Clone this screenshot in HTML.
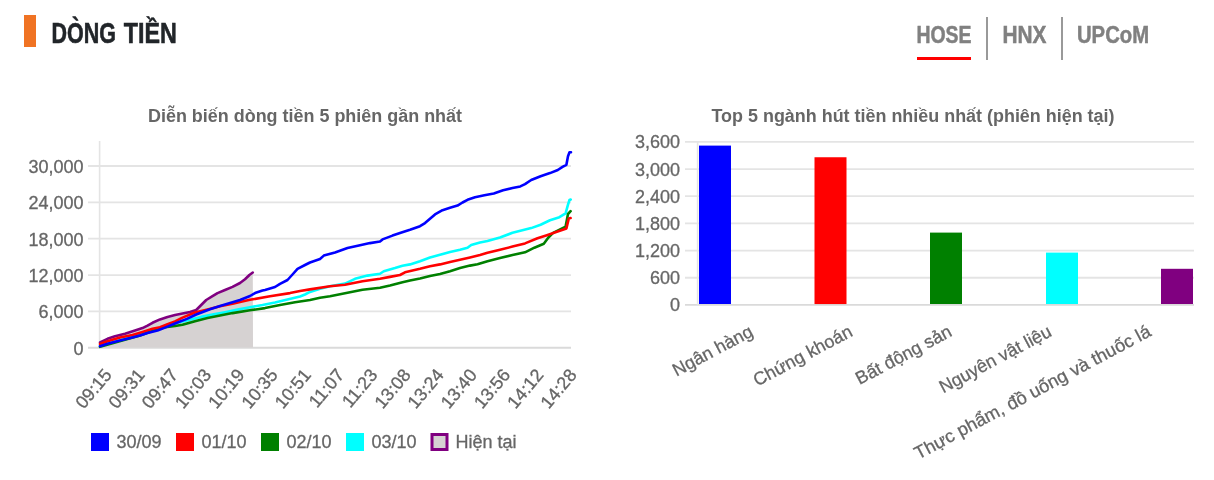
<!DOCTYPE html>
<html><head><meta charset="utf-8"><style>
html,body{margin:0;padding:0;background:#fff;width:1214px;height:480px;overflow:hidden}
svg{display:block;font-family:"Liberation Sans", sans-serif;will-change:transform}
</style></head><body>
<svg width="1214" height="480" viewBox="0 0 1214 480">
<rect x="24" y="15" width="12" height="32" fill="#f07323"/>
<text x="51.5" y="43" font-size="29.5" font-weight="bold" fill="#212529" text-anchor="start" textLength="64.5" lengthAdjust="spacingAndGlyphs" stroke="#212529" stroke-width="0.6">DÒNG</text>
<text x="123.8" y="43" font-size="29.5" font-weight="bold" fill="#212529" text-anchor="start" textLength="53" lengthAdjust="spacingAndGlyphs" stroke="#212529" stroke-width="0.6">TIỀN</text>
<text x="916.5" y="43" font-size="24" font-weight="bold" fill="#808080" text-anchor="start" textLength="55" lengthAdjust="spacingAndGlyphs" stroke="#808080" stroke-width="0.5">HOSE</text>
<text x="1002.5" y="43" font-size="24" font-weight="bold" fill="#808080" text-anchor="start" textLength="44" lengthAdjust="spacingAndGlyphs" stroke="#808080" stroke-width="0.5">HNX</text>
<text x="1077" y="43" font-size="24" font-weight="bold" fill="#808080" text-anchor="start" textLength="72" lengthAdjust="spacingAndGlyphs" stroke="#808080" stroke-width="0.5">UPCoM</text>
<rect x="917" y="57" width="54" height="3" fill="#f00"/>
<rect x="986" y="17" width="2" height="43" fill="#999"/>
<rect x="1061" y="17" width="2" height="43" fill="#999"/>
<text x="148" y="122" font-size="18" font-weight="bold" fill="#666" text-anchor="start" textLength="314" lengthAdjust="spacingAndGlyphs" >Diễn biến dòng tiền 5 phiên gần nhất</text>
<text x="711.5" y="122" font-size="18" font-weight="bold" fill="#666" text-anchor="start" textLength="403" lengthAdjust="spacingAndGlyphs" >Top 5 ngành hút tiền nhiều nhất (phiên hiện tại)</text>
<line x1="88" y1="347.75" x2="571" y2="347.75" stroke="#dadada" stroke-width="1.8"/>
<text x="83.5" y="354.75" font-size="18" font-weight="normal" fill="#666" text-anchor="end" stroke="#666" stroke-width="0.3" >0</text>
<line x1="88" y1="311.40" x2="571" y2="311.40" stroke="#e4e4e4" stroke-width="1.8"/>
<text x="83.5" y="318.4" font-size="18" font-weight="normal" fill="#666" text-anchor="end" stroke="#666" stroke-width="0.3" >6,000</text>
<line x1="88" y1="275.05" x2="571" y2="275.05" stroke="#e4e4e4" stroke-width="1.8"/>
<text x="83.5" y="282.05" font-size="18" font-weight="normal" fill="#666" text-anchor="end" stroke="#666" stroke-width="0.3" >12,000</text>
<line x1="88" y1="238.70" x2="571" y2="238.70" stroke="#e4e4e4" stroke-width="1.8"/>
<text x="83.5" y="245.7" font-size="18" font-weight="normal" fill="#666" text-anchor="end" stroke="#666" stroke-width="0.3" >18,000</text>
<line x1="88" y1="202.35" x2="571" y2="202.35" stroke="#e4e4e4" stroke-width="1.8"/>
<text x="83.5" y="209.35" font-size="18" font-weight="normal" fill="#666" text-anchor="end" stroke="#666" stroke-width="0.3" >24,000</text>
<line x1="88" y1="166.00" x2="571" y2="166.00" stroke="#e4e4e4" stroke-width="1.8"/>
<text x="83.5" y="173.0" font-size="18" font-weight="normal" fill="#666" text-anchor="end" stroke="#666" stroke-width="0.3" >30,000</text>
<line x1="99.6" y1="141" x2="99.6" y2="348.5" stroke="#e4e4e4" stroke-width="1.6"/>
<polygon points="100.0,342.5 107.5,338.8 115.0,336.2 125.0,333.8 135.0,330.6 142.5,328.1 147.5,325.6 152.5,322.8 160.0,319.4 167.5,316.9 175.0,315.0 180.0,314.0 190.0,311.9 196.2,310.0 201.2,305.0 206.2,300.0 212.5,296.2 217.5,293.1 225.0,290.0 232.5,286.9 240.0,283.0 245.0,279.3 249.4,275.0 252.8,272.5 253.0,347.5 99.6,347.5" fill="#d6d2d2"/>
<polyline points="100.0,342.5 107.5,338.8 115.0,336.2 125.0,333.8 135.0,330.6 142.5,328.1 147.5,325.6 152.5,322.8 160.0,319.4 167.5,316.9 175.0,315.0 180.0,314.0 190.0,311.9 196.2,310.0 201.2,305.0 206.2,300.0 212.5,296.2 217.5,293.1 225.0,290.0 232.5,286.9 240.0,283.0 245.0,279.3 249.4,275.0 252.8,272.5" fill="none" stroke="#800080" stroke-width="2.6" stroke-linejoin="round" stroke-linecap="round"/>
<polyline points="100.0,346.0 140.0,334.5 160.0,328.0 176.2,323.1 188.8,320.0 201.2,316.9 213.8,314.4 226.2,311.9 238.8,309.4 250.0,307.2 262.5,305.0 275.0,302.5 287.5,299.4 300.0,296.5 305.0,294.5 310.0,291.9 320.0,288.8 330.0,286.3 345.0,283.6 355.0,278.8 367.5,275.6 380.0,273.8 383.8,271.2 395.0,268.1 402.5,265.8 410.0,264.4 420.0,261.2 430.0,257.5 440.0,254.8 450.0,252.1 460.0,249.8 467.5,247.8 471.2,245.0 480.0,242.5 487.5,240.9 500.0,237.5 512.5,232.8 531.2,228.1 540.6,224.7 550.0,220.3 559.4,217.2 565.6,213.3 568.0,204.7 569.5,200.0 570.7,199.5" fill="none" stroke="#00ffff" stroke-width="2.6" stroke-linejoin="round" stroke-linecap="round"/>
<polyline points="100.0,346.8 140.0,335.5 155.0,330.0 165.0,327.2 175.0,326.0 182.5,324.8 195.0,321.2 207.5,318.1 220.0,315.6 232.5,313.1 250.0,310.3 265.0,308.1 280.0,305.0 295.0,302.2 310.0,300.0 320.0,297.8 330.0,296.2 362.5,289.8 380.0,287.8 390.0,285.6 402.5,282.2 410.0,280.6 420.0,278.5 430.0,276.0 440.0,274.0 450.0,271.2 460.0,268.1 470.0,265.6 477.5,264.2 487.5,261.2 500.0,258.1 512.5,255.0 525.0,252.3 534.4,247.7 543.8,243.8 548.4,237.5 553.1,232.8 565.6,226.6 568.0,214.0 570.6,211.2" fill="none" stroke="#008000" stroke-width="2.6" stroke-linejoin="round" stroke-linecap="round"/>
<polyline points="100.0,344.0 107.5,341.2 120.0,337.5 132.5,335.0 142.5,331.9 152.5,328.8 160.0,327.3 167.5,324.3 175.0,321.4 182.5,317.6 195.0,312.5 207.5,309.4 220.0,306.2 232.5,303.8 240.0,301.9 250.0,299.8 270.0,296.2 290.0,293.1 300.0,291.0 310.0,289.4 330.0,286.2 345.0,284.8 362.5,281.2 380.0,278.8 390.0,276.9 400.0,275.0 405.0,272.3 420.0,268.8 430.0,266.2 440.0,264.4 450.0,261.9 460.0,259.8 470.0,257.5 480.0,255.0 487.5,252.8 500.0,249.7 512.5,246.6 525.0,243.4 537.5,238.3 546.9,235.2 556.2,232.0 566.4,228.4 568.8,218.4 570.6,218.0" fill="none" stroke="#ff0000" stroke-width="2.6" stroke-linejoin="round" stroke-linecap="round"/>
<polyline points="100.0,346.2 107.5,343.8 120.0,340.6 132.5,337.5 140.0,335.6 147.5,333.0 157.5,330.5 165.0,327.6 175.0,323.5 186.9,318.9 196.2,314.5 210.0,309.2 220.0,306.0 230.0,303.1 240.0,300.0 250.0,296.0 255.0,293.1 262.5,290.6 265.0,290.0 275.0,287.0 280.0,283.8 287.5,280.0 292.5,274.5 297.5,268.8 305.0,265.0 310.0,262.5 320.0,259.0 323.8,255.6 335.0,252.5 347.5,248.1 360.0,245.2 370.0,243.1 380.0,241.5 382.5,239.4 392.5,235.6 400.0,233.1 410.0,229.8 420.0,226.2 425.0,223.1 430.0,218.8 435.0,214.4 442.5,210.2 450.0,207.8 457.5,205.6 462.5,202.5 467.5,199.8 475.0,197.2 484.4,195.3 493.8,193.4 503.1,190.3 512.5,188.0 520.3,186.4 525.0,184.1 531.2,180.0 540.6,176.2 550.0,173.1 557.8,170.0 562.5,166.9 566.4,164.8 568.0,156.2 569.5,152.3 571.0,152.3" fill="none" stroke="#0000ff" stroke-width="2.6" stroke-linejoin="round" stroke-linecap="round"/>
<text x="0" y="0" font-size="18" font-weight="normal" fill="#666" text-anchor="end" stroke="#666" stroke-width="0.3" transform="translate(108.0,371.5) rotate(-50)" dy="6">09:15</text>
<text x="0" y="0" font-size="18" font-weight="normal" fill="#666" text-anchor="end" stroke="#666" stroke-width="0.3" transform="translate(141.2,371.5) rotate(-50)" dy="6">09:31</text>
<text x="0" y="0" font-size="18" font-weight="normal" fill="#666" text-anchor="end" stroke="#666" stroke-width="0.3" transform="translate(174.4,371.5) rotate(-50)" dy="6">09:47</text>
<text x="0" y="0" font-size="18" font-weight="normal" fill="#666" text-anchor="end" stroke="#666" stroke-width="0.3" transform="translate(207.7,371.5) rotate(-50)" dy="6">10:03</text>
<text x="0" y="0" font-size="18" font-weight="normal" fill="#666" text-anchor="end" stroke="#666" stroke-width="0.3" transform="translate(240.9,371.5) rotate(-50)" dy="6">10:19</text>
<text x="0" y="0" font-size="18" font-weight="normal" fill="#666" text-anchor="end" stroke="#666" stroke-width="0.3" transform="translate(274.1,371.5) rotate(-50)" dy="6">10:35</text>
<text x="0" y="0" font-size="18" font-weight="normal" fill="#666" text-anchor="end" stroke="#666" stroke-width="0.3" transform="translate(307.3,371.5) rotate(-50)" dy="6">10:51</text>
<text x="0" y="0" font-size="18" font-weight="normal" fill="#666" text-anchor="end" stroke="#666" stroke-width="0.3" transform="translate(340.5,371.5) rotate(-50)" dy="6">11:07</text>
<text x="0" y="0" font-size="18" font-weight="normal" fill="#666" text-anchor="end" stroke="#666" stroke-width="0.3" transform="translate(373.8,371.5) rotate(-50)" dy="6">11:23</text>
<text x="0" y="0" font-size="18" font-weight="normal" fill="#666" text-anchor="end" stroke="#666" stroke-width="0.3" transform="translate(407.0,371.5) rotate(-50)" dy="6">13:08</text>
<text x="0" y="0" font-size="18" font-weight="normal" fill="#666" text-anchor="end" stroke="#666" stroke-width="0.3" transform="translate(440.2,371.5) rotate(-50)" dy="6">13:24</text>
<text x="0" y="0" font-size="18" font-weight="normal" fill="#666" text-anchor="end" stroke="#666" stroke-width="0.3" transform="translate(473.4,371.5) rotate(-50)" dy="6">13:40</text>
<text x="0" y="0" font-size="18" font-weight="normal" fill="#666" text-anchor="end" stroke="#666" stroke-width="0.3" transform="translate(506.6,371.5) rotate(-50)" dy="6">13:56</text>
<text x="0" y="0" font-size="18" font-weight="normal" fill="#666" text-anchor="end" stroke="#666" stroke-width="0.3" transform="translate(539.9,371.5) rotate(-50)" dy="6">14:12</text>
<text x="0" y="0" font-size="18" font-weight="normal" fill="#666" text-anchor="end" stroke="#666" stroke-width="0.3" transform="translate(573.1,371.5) rotate(-50)" dy="6">14:28</text>
<rect x="91" y="433" width="18" height="18" fill="#0000ff"/>
<text x="116.5" y="447.7" font-size="18" font-weight="normal" fill="#666" text-anchor="start" stroke="#666" stroke-width="0.3" >30/09</text>
<rect x="176" y="433" width="18" height="18" fill="#ff0000"/>
<text x="201.5" y="447.7" font-size="18" font-weight="normal" fill="#666" text-anchor="start" stroke="#666" stroke-width="0.3" >01/10</text>
<rect x="261" y="433" width="18" height="18" fill="#008000"/>
<text x="286.5" y="447.7" font-size="18" font-weight="normal" fill="#666" text-anchor="start" stroke="#666" stroke-width="0.3" >02/10</text>
<rect x="346" y="433" width="18" height="18" fill="#00ffff"/>
<text x="371.5" y="447.7" font-size="18" font-weight="normal" fill="#666" text-anchor="start" stroke="#666" stroke-width="0.3" >03/10</text>
<rect x="432" y="434.5" width="15" height="15" fill="#d6d2d2" stroke="#800080" stroke-width="3"/>
<text x="455.5" y="447.7" font-size="18" font-weight="normal" fill="#666" text-anchor="start" stroke="#666" stroke-width="0.3" >Hiện tại</text>
<line x1="685" y1="304.90" x2="1194" y2="304.90" stroke="#dadada" stroke-width="1.8"/>
<text x="680" y="311.4" font-size="18" font-weight="normal" fill="#666" text-anchor="end" stroke="#666" stroke-width="0.3" >0</text>
<line x1="685" y1="277.73" x2="1194" y2="277.73" stroke="#e4e4e4" stroke-width="1.8"/>
<text x="680" y="284.22999999999996" font-size="18" font-weight="normal" fill="#666" text-anchor="end" stroke="#666" stroke-width="0.3" >600</text>
<line x1="685" y1="250.56" x2="1194" y2="250.56" stroke="#e4e4e4" stroke-width="1.8"/>
<text x="680" y="257.05999999999995" font-size="18" font-weight="normal" fill="#666" text-anchor="end" stroke="#666" stroke-width="0.3" >1,200</text>
<line x1="685" y1="223.39" x2="1194" y2="223.39" stroke="#e4e4e4" stroke-width="1.8"/>
<text x="680" y="229.89" font-size="18" font-weight="normal" fill="#666" text-anchor="end" stroke="#666" stroke-width="0.3" >1,800</text>
<line x1="685" y1="196.22" x2="1194" y2="196.22" stroke="#e4e4e4" stroke-width="1.8"/>
<text x="680" y="202.71999999999997" font-size="18" font-weight="normal" fill="#666" text-anchor="end" stroke="#666" stroke-width="0.3" >2,400</text>
<line x1="685" y1="169.05" x2="1194" y2="169.05" stroke="#e4e4e4" stroke-width="1.8"/>
<text x="680" y="175.54999999999995" font-size="18" font-weight="normal" fill="#666" text-anchor="end" stroke="#666" stroke-width="0.3" >3,000</text>
<line x1="685" y1="141.88" x2="1194" y2="141.88" stroke="#e4e4e4" stroke-width="1.8"/>
<text x="680" y="148.37999999999997" font-size="18" font-weight="normal" fill="#666" text-anchor="end" stroke="#666" stroke-width="0.3" >3,600</text>
<line x1="697.6" y1="141" x2="697.6" y2="305.8" stroke="#e4e4e4" stroke-width="1.6"/>
<rect x="699" y="145.6" width="32" height="158.4" fill="#0000ff"/>
<rect x="814.5" y="157.25" width="32" height="146.8" fill="#ff0000"/>
<rect x="930" y="232.6" width="32" height="71.4" fill="#008000"/>
<rect x="1046" y="252.6" width="32" height="51.4" fill="#00ffff"/>
<rect x="1161" y="268.8" width="32" height="35.2" fill="#800080"/>
<text x="0" y="0" font-size="18" font-weight="normal" fill="#666" text-anchor="end" stroke="#666" stroke-width="0.3" transform="translate(751.4,330) rotate(-28)" dy="6">Ngân hàng</text>
<text x="0" y="0" font-size="18" font-weight="normal" fill="#666" text-anchor="end" stroke="#666" stroke-width="0.3" transform="translate(850.9,330) rotate(-28)" dy="6">Chứng khoán</text>
<text x="0" y="0" font-size="18" font-weight="normal" fill="#666" text-anchor="end" stroke="#666" stroke-width="0.3" transform="translate(950.4,330) rotate(-28)" dy="6">Bất động sản</text>
<text x="0" y="0" font-size="18" font-weight="normal" fill="#666" text-anchor="end" stroke="#666" stroke-width="0.3" transform="translate(1049.9,330) rotate(-28)" dy="6">Nguyên vật liệu</text>
<text x="0" y="0" font-size="18" font-weight="normal" fill="#666" text-anchor="end" stroke="#666" stroke-width="0.3" textLength="265" lengthAdjust="spacingAndGlyphs" transform="translate(1149.4,330) rotate(-28)" dy="6">Thực phẩm, đồ uống và thuốc lá</text>
</svg>
</body></html>
